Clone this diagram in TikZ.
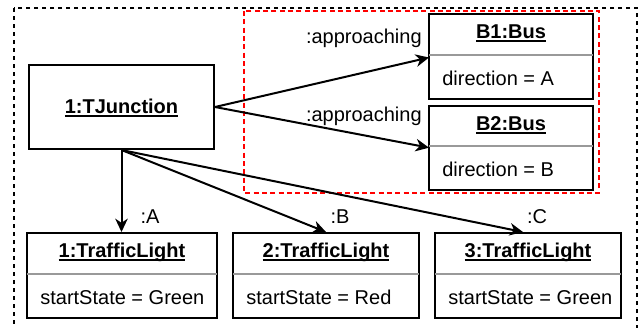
\documentclass[tikz,border=0pt]{standalone}
\usepackage{fontspec}
\setmainfont{Liberation Sans}
\usetikzlibrary{arrows.meta,fit}

\newcommand{\ulText}[1]{\leavevmode\setbox0=\hbox{#1}\rlap{\rule[-2.3pt]{\wd0}{1pt}}\box0}

\newcommand{\drawObject}[8]{%
    \coordinate (#1-nw) at (#2,#3);
    \coordinate (#1-se) at (#4,#5);
    \coordinate (#1-div) at (#2,#6);
    \node[objbox, fit=(#1-nw)(#1-se)] (#1) {};
    \draw[divider] (#1-div) -- (#4,#6);
    \node[objtitle] (#1-title) at ({(#2+#4)/2},#3+18) {\ulText{#7}};
    \node[objattr] (#1-attr) at (#2+13,#5-20) {#8};
}

\begin{document}
\begin{tikzpicture}[x=0.6pt, y=-0.6pt, font=\fontsize{12}{14}\selectfont,
        objbox/.style={draw, line width=1.2pt, inner sep=0pt},
        divider/.style={draw=black!40, line width=1.4pt},
        objtitle/.style={font=\fontsize{12}{14}\selectfont\bfseries, text height=0.72em, text depth=0pt, inner sep=0pt},
        objattr/.style={anchor=west, text height=0.72em, text depth=0pt, inner sep=0pt},
        lbl/.style={inner sep=0pt, text height=0.72em, text depth=0pt},
        assoc/.style={-{Stealth[length=8pt, width=7.5pt, inset=2.5pt]}, line width=1.2pt}]
        \useasboundingbox (0,0) rectangle (643,327);
        \clip (0,0) rectangle (643,327);

        % frames
        \draw[line width=0.8pt, dash pattern=on 2.4pt off 2.4pt] (14,8) rectangle (637,345);
        \draw[red, line width=0.8pt, dash pattern=on 3pt off 2pt] (244,11) rectangle (599,193);

        % TJunction
        \coordinate (tj-nw) at (29,65);
        \coordinate (tj-se) at (214,149);
        \node[objbox, fit=(tj-nw)(tj-se)] (tj) {};
        \node[objtitle] (tj-title) at (121.5,107) {\ulText{1:TJunction}};

        % buses
        \drawObject{b1}{429}{14}{593}{99}{55}{B1:Bus}{direction = A}
        \drawObject{b2}{429}{106}{593}{190}{146}{B2:Bus}{direction = B}

        % traffic lights
        \drawObject{tl1}{27}{233}{217}{318}{274}{1:TrafficLight}{startState = Green}
        \drawObject{tl2}{233}{233}{419}{318}{274}{2:TrafficLight}{startState = Red}
        \drawObject{tl3}{435}{233}{621}{318}{274}{3:TrafficLight}{startState = Green}

        \draw[assoc] (tj.east) -- ([yshift=-1.5]b1-div);
        \draw[assoc] (tj.east) -- ([yshift=-1]b2-div);
        \draw[assoc] (tj.south) -- (tj.south |- tl1.north);
        \draw[assoc] (tj.south) -- (tl2.north);
        \draw[assoc] (tj.south) -- ([xshift=-3]tl3.north);

        \node[lbl, anchor=east] (appr1) at (422,37) {:approaching};
        \node[lbl, anchor=east] (appr2) at (422,115) {:approaching};
        \node[lbl] (lblA) at (150,217) {:A};
        \node[lbl] (lblB) at (340,217) {:B};
        \node[lbl] (lblC) at (537,217) {:C};
    \end{tikzpicture}
\end{document}
